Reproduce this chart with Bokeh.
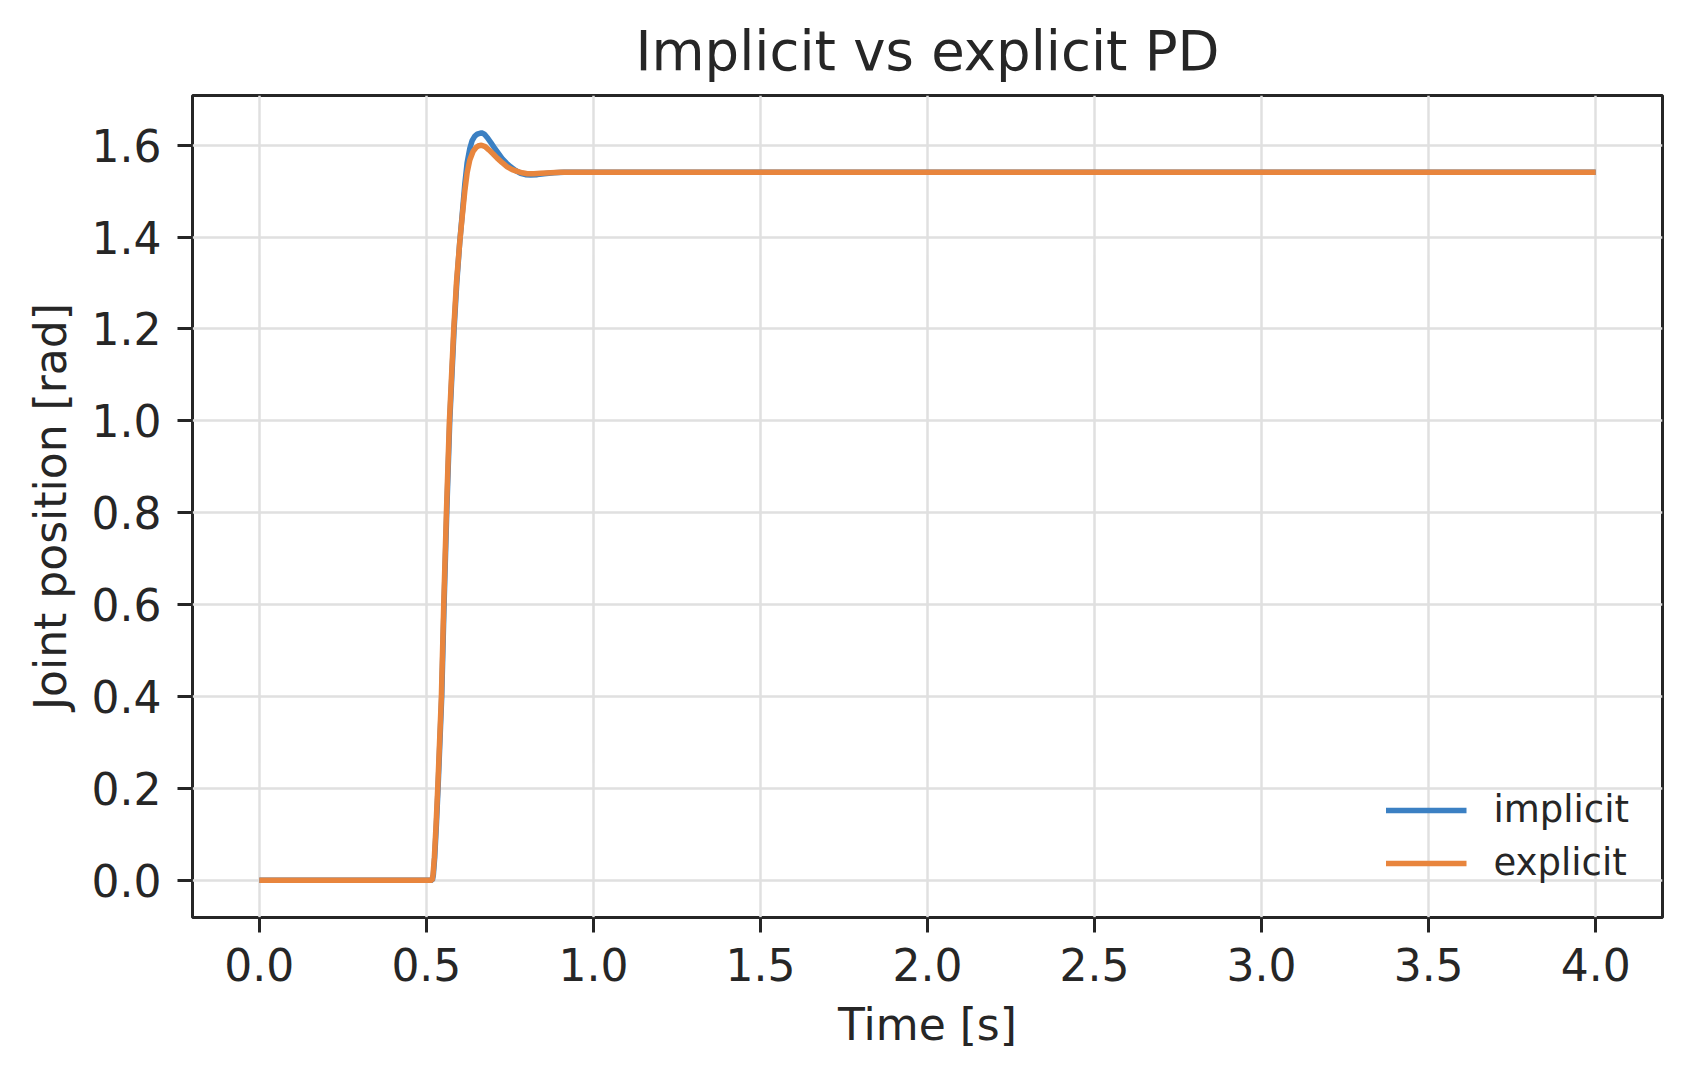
from bokeh.plotting import figure
from bokeh.models import FixedTicker, PrintfTickFormatter, Range1d, Legend, LegendItem
from bokeh.embed import file_html
from bokeh.resources import INLINE

# ---- data ----
t_implicit = [0.0, 0.518, 0.521, 0.525, 0.530, 0.535, 0.546, 0.553, 0.561, 0.570,
              0.583, 0.591, 0.600, 0.608, 0.615, 0.622, 0.630, 0.637, 0.645, 0.652,
              0.665, 0.674, 0.682, 0.692, 0.702, 0.715, 0.727, 0.740, 0.752, 0.767,
              0.782, 0.797, 0.812, 0.832, 0.852, 0.882, 0.912, 0.960, 1.0, 4.0]
implicit = [0.0, 0.0, 0.012, 0.05, 0.12, 0.2, 0.4, 0.6, 0.8, 1.0,
            1.2, 1.3, 1.39, 1.455, 1.515, 1.562, 1.593, 1.610, 1.620, 1.624,
            1.627, 1.624, 1.617, 1.607, 1.596, 1.583, 1.571, 1.561, 1.553, 1.545,
            1.539, 1.536, 1.535, 1.536, 1.538, 1.540, 1.541, 1.541, 1.541, 1.541]

t_explicit = [0.0, 0.517, 0.520, 0.524, 0.529, 0.534, 0.545, 0.552, 0.560, 0.569,
              0.582, 0.590, 0.600, 0.608, 0.615, 0.622, 0.630, 0.640, 0.650, 0.657,
              0.665, 0.676, 0.687, 0.700, 0.712, 0.727, 0.742, 0.757, 0.772, 0.787,
              0.802, 0.822, 0.842, 0.872, 0.902, 0.950, 1.0, 4.0]
explicit = [0.0, 0.0, 0.012, 0.05, 0.12, 0.2, 0.4, 0.6, 0.8, 1.0,
            1.2, 1.3, 1.39, 1.45, 1.50, 1.54, 1.568, 1.587, 1.596, 1.599,
            1.600, 1.597, 1.590, 1.581, 1.572, 1.562, 1.553, 1.547, 1.543, 1.540,
            1.538, 1.538, 1.539, 1.540, 1.541, 1.541, 1.541, 1.541]

x_ticks = [0.0, 0.5, 1.0, 1.5, 2.0, 2.5, 3.0, 3.5, 4.0]
y_ticks = [0.0, 0.2, 0.4, 0.6, 0.8, 1.0, 1.2, 1.4, 1.6]

title_text = "Implicit vs explicit PD"
x_label = "Time [s]"
y_label = "Joint position [rad]"
series_names = ["implicit", "explicit"]
series_colors = ["#3b80c3", "#e8853d"]

FONT = "DejaVu Sans"
TXT = "#262626"

p = figure(width=1683, height=1072, output_backend="svg", toolbar_location=None,
           x_range=Range1d(-0.2, 4.2), y_range=Range1d(-0.0813, 1.7083),
           min_border_left=192, min_border_right=21, min_border_top=95, min_border_bottom=155)

p.title.text = title_text
p.title.text_font = FONT
p.title.text_font_size = "54.5px"
p.title.text_font_style = "normal"
p.title.text_color = TXT
p.title.align = "center"
p.title.standoff = 26

p.outline_line_color = TXT
p.outline_line_width = 3
p.background_fill_color = "white"
p.border_fill_color = "white"

for ax, ticks, lab in ((p.xaxis[0], x_ticks, x_label), (p.yaxis[0], y_ticks, y_label)):
    ax.ticker = FixedTicker(ticks=ticks)
    ax.formatter = PrintfTickFormatter(format="%.1f")
    ax.minor_tick_line_color = None
    ax.major_tick_in = 0
    ax.major_tick_out = 15
    ax.major_tick_line_color = TXT
    ax.major_tick_line_width = 3
    ax.axis_line_color = None
    ax.major_label_text_font = FONT
    ax.major_label_text_font_size = "44px"
    ax.major_label_text_color = TXT
    ax.axis_label = lab
    ax.axis_label_text_font = FONT
    ax.axis_label_text_font_size = "44px"
    ax.axis_label_text_font_style = "normal"
    ax.axis_label_text_color = TXT

p.xaxis.major_label_standoff = 15
p.yaxis.major_label_standoff = 16
p.xaxis.axis_label_standoff = 15
p.yaxis.axis_label_standoff = 13

p.grid.grid_line_color = "#e0e0e0"
p.grid.grid_line_width = 2.5

r1 = p.line(t_implicit, implicit, line_color=series_colors[0], line_width=5.5)
r2 = p.line(t_explicit, explicit, line_color=series_colors[1], line_width=5.5)

legend = Legend(items=[LegendItem(label=series_names[0], renderers=[r1]),
                       LegendItem(label=series_names[1], renderers=[r2])],
                location="bottom_right")
legend.border_line_color = None
legend.background_fill_alpha = 0.0
legend.label_text_font = FONT
legend.label_text_font_size = "37px"
legend.label_text_color = TXT
legend.glyph_width = 81
legend.glyph_height = 40
legend.label_height = 40
legend.label_standoff = 27
legend.spacing = 10
legend.padding = 10
legend.margin = 33
p.add_layout(legend, "center")

open("out.html", "w").write(file_html(p, INLINE))
